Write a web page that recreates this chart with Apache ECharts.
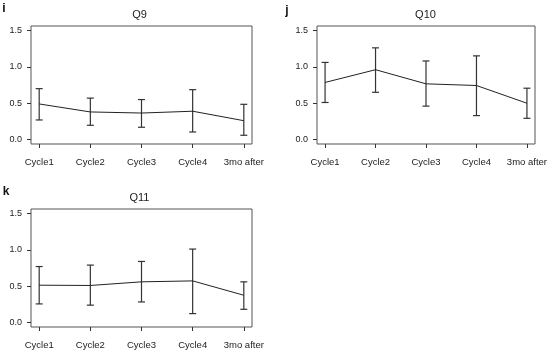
<!DOCTYPE html>
<html>
<head>
<meta charset="utf-8">
<script src="https://cdn.jsdelivr.net/npm/echarts@6/dist/echarts.min.js"></script>
<style>html,body{margin:0;padding:0;background:#fff}#c{width:550px;height:351px}</style>
</head>
<body>
<div id="c"></div>
<script>
var categories = ['Cycle1', 'Cycle2', 'Cycle3', 'Cycle4', '3mo after'];
var yTicks = [0, 0.5, 1.0, 1.5];

var q9Mean  = [0.49, 0.38, 0.365, 0.39, 0.26];
var q9Upper = [0.70, 0.57, 0.55, 0.686, 0.485];
var q9Lower = [0.27, 0.197, 0.17, 0.105, 0.06];

var q10Mean  = [0.785, 0.96, 0.766, 0.743, 0.50];
var q10Upper = [1.06, 1.26, 1.08, 1.15, 0.706];
var q10Lower = [0.51, 0.65, 0.46, 0.33, 0.293];

var q11Mean  = [0.514, 0.51, 0.56, 0.573, 0.376];
var q11Upper = [0.77, 0.79, 0.84, 1.01, 0.56];
var q11Lower = [0.257, 0.24, 0.284, 0.124, 0.183];

var panels = [
  {title: 'Q9', letter: 'i', mean: q9Mean, upper: q9Upper, lower: q9Lower, grid: {left: 31, top: 26, width: 221, height: 118}, lx: 4, ly: 9},
  {title: 'Q10', letter: 'j', mean: q10Mean, upper: q10Upper, lower: q10Lower, grid: {left: 317, top: 26, width: 221, height: 118}, lx: 287, ly: 11},
  {title: 'Q11', letter: 'k', mean: q11Mean, upper: q11Upper, lower: q11Lower, grid: {left: 31, top: 209, width: 221, height: 118}, lx: 6, ly: 192}
];

var FONT = 'Liberation Sans, Arial, sans-serif';
var grids = [], xAxes = [], yAxes = [], series = [], graphics = [];
var catIdx = categories.map(function (c, i) { return i; });

panels.forEach(function (p, k) {
  grids.push(Object.assign({show: true, borderColor: '#555', borderWidth: 1, backgroundColor: 'transparent'}, p.grid));
  xAxes.push({
    type: 'value', gridIndex: k, min: -0.16, max: 4.16, position: 'bottom',
    axisLine: {show: false, onZero: false},
    splitLine: {show: false},
    axisTick: {show: true, customValues: catIdx, length: 4, lineStyle: {color: '#333'}},
    axisLabel: {show: true, customValues: catIdx, margin: 13, fontSize: 9.5, color: '#222', fontFamily: FONT,
      formatter: function (v) { return categories[Math.round(v)]; }}
  });
  yAxes.push({
    type: 'value', gridIndex: k, min: -0.06, max: 1.56, position: 'left',
    axisLine: {show: false, onZero: false},
    splitLine: {show: false},
    axisTick: {show: true, customValues: yTicks, length: 4, lineStyle: {color: '#333'}},
    axisLabel: {show: true, customValues: yTicks, margin: 9, fontSize: 9, color: '#222', fontFamily: FONT,
      formatter: function (v) { return v.toFixed(1); }}
  });
  series.push({
    type: 'line', xAxisIndex: k, yAxisIndex: k, symbol: 'none', silent: true,
    lineStyle: {color: '#222', width: 1},
    data: p.mean.map(function (v, i) { return [i, v]; })
  });
  series.push({
    type: 'custom', xAxisIndex: k, yAxisIndex: k, silent: true,
    data: p.mean.map(function (v, i) { return [i, p.lower[i], p.upper[i]]; }),
    renderItem: function (params, api) {
      var lo = api.coord([api.value(0), api.value(1)]);
      var hi = api.coord([api.value(0), api.value(2)]);
      var hw = 3.5;
      var st = {stroke: '#333', lineWidth: 1.2};
      return {type: 'group', children: [
        {type: 'line', shape: {x1: lo[0], y1: lo[1], x2: hi[0], y2: hi[1]}, style: st},
        {type: 'line', shape: {x1: lo[0] - hw, y1: lo[1], x2: lo[0] + hw, y2: lo[1]}, style: st},
        {type: 'line', shape: {x1: hi[0] - hw, y1: hi[1], x2: hi[0] + hw, y2: hi[1]}, style: st}
      ]};
    }
  });
  graphics.push({type: 'text', x: p.grid.left + p.grid.width / 2 - 2, y: p.grid.top - 11,
    style: {text: p.title, align: 'center', verticalAlign: 'middle', fontSize: 11, fontFamily: FONT, fill: '#222'}});
  graphics.push({type: 'text', x: p.lx, y: p.ly,
    style: {text: p.letter, align: 'center', verticalAlign: 'middle', fontSize: 12, fontWeight: 'bold', fontFamily: FONT, fill: '#111'}});
});

var chart = echarts.init(document.getElementById('c'), null, {renderer: 'canvas'});
chart.setOption({
  animation: false,
  backgroundColor: '#fff',
  grid: grids, xAxis: xAxes, yAxis: yAxes, series: series, graphic: graphics
});
</script>
</body>
</html>
